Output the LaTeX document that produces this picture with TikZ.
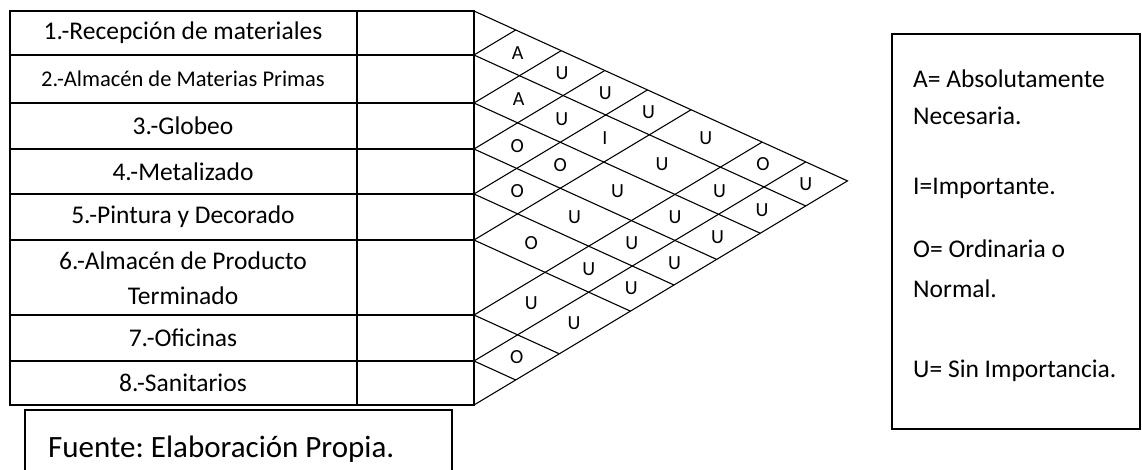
\documentclass[tikz,border=0pt]{standalone}
\usepackage{fontspec}
\setmainfont{Carlito}
\begin{document}
\frenchspacing
\begin{tikzpicture}[x=1pt,y=-1pt,
  tbl/.style={line width=1.5pt},
  gridline/.style={line width=1.1pt},
  lbl/.style={font=\fontsize{25.5}{35}\selectfont, inner sep=0, align=center},
  cell/.style={font=\fontsize{20}{20}\selectfont, inner sep=0},
  leg/.style={font=\fontsize{25.5}{30}\selectfont, inner sep=0, anchor=base west}]
\useasboundingbox (0,0) rectangle (1142,470);
% table
\draw[tbl] (10,11) rectangle (474,405);
\draw[tbl] (357,11) -- (357,405);
\foreach \y in {55,103,149,194,240,315,361} \draw[tbl] (10,\y) -- (474,\y);
\node[lbl] (r1) at (183,33) {1.-Recepción de materiales};
\node[lbl,font=\fontsize{22.5}{27}\selectfont] (r2) at (183,79) {2.-Almacén de Materias Primas};
\node[lbl] (r3) at (183,126) {3.-Globeo};
\node[lbl] (r4) at (183,171.5) {4.-Metalizado};
\node[lbl] (r5) at (183,217) {5.-Pintura y Decorado};
\node[lbl] (r6) at (183,278) {6.-Almacén de Producto\\Terminado};
\node[lbl] (r7) at (183,338) {7.-Oficinas};
\node[lbl] (r8) at (183,383) {8.-Sanitarios};
% triangle grid
\coordinate (T) at (474,11);
\coordinate (B) at (474,405);
\coordinate (apex) at (847.5,180.9);
\draw[gridline] (T) -- (apex) -- (B);
\foreach \y in {55,103,149,194,240,315,361} {
  \pgfmathsetmacro{\td}{(405-\y)/1.055}
  \pgfmathsetmacro{\tu}{(\y-11)/1.055}
  \draw[gridline] (474,\y) -- ++(\td, 0.455*\td);
  \draw[gridline] (474,\y) -- ++(\tu, -0.6*\tu);
}
% row mid heights: 1:33 2:79 3:126 4:171.5 5:217 6:277.5 7:338 8:383
\foreach \n/\a/\b/\L in {12/33/79/A,13/33/126/U,14/33/171.5/U,15/33/217/U,16/33/277.5/U,17/33/338/O,18/33/383/U,
  23/79/126/A,24/79/171.5/U,25/79/217/I,26/79/277.5/U,27/79/338/U,28/79/383/U,
  34/126/171.5/O,35/126/217/O,36/126/277.5/U,37/126/338/U,38/126/383/U,
  45/171.5/217/O,46/171.5/277.5/U,47/171.5/338/U,48/171.5/383/U,
  56/217/277.5/O,57/217/338/U,58/217/383/U,
  67/277.5/338/U,68/277.5/383/U,
  78/338/383/O} {
  \pgfmathsetmacro{\t}{(\b-\a)/1.055}
  \pgfmathsetmacro{\yy}{\a+0.455*\t}
  \node[cell] (c\n) at (474+\t,\yy) {\L};
}
% source box
\draw[tbl] (25,472) -- (25,410) -- (452,410) -- (452,472);
\node[font=\fontsize{31}{31}\selectfont, anchor=base west, inner sep=0] (fuente) at (48,457) {Fuente: Elaboración Propia.};
% legend
\draw[tbl] (892,34) rectangle (1140,429);
\node[leg] (legA1) at (913,88) {A= Absolutamente};
\node[leg] (legA2) at (913,125) {Necesaria.};
\node[leg] (legI) at (913,195) {I=Importante.};
\node[leg] (legO1) at (913,258) {O= Ordinaria o};
\node[leg] (legO2) at (913,297) {Normal.};
\node[leg] (legU) at (913,377) {U= Sin Importancia.};
\end{tikzpicture}
\end{document}
